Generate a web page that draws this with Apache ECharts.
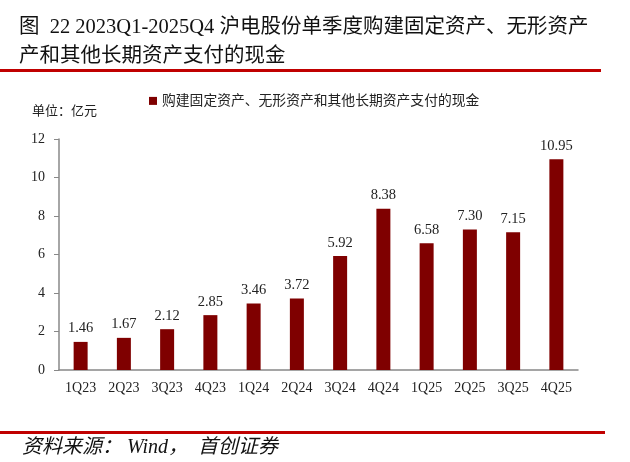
<!DOCTYPE html>
<html><head><meta charset="utf-8">
<script src="https://cdn.jsdelivr.net/npm/echarts@6/dist/echarts.min.js"></script>
<style>html,body{margin:0;padding:0;background:#fff}#c{width:630px;height:462px}</style>
</head><body><div id="c"></div>
<script>
const categories = ['1Q23','2Q23','3Q23','4Q23','1Q24','2Q24','3Q24','4Q24','1Q25','2Q25','3Q25','4Q25'];
const values = [1.46,1.67,2.12,2.85,3.46,3.72,5.92,8.38,6.58,7.30,7.15,10.95];
const seriesName = '购建固定资产、无形资产和其他长期资产支付的现金';
const yTicks = [0,2,4,6,8,10,12];
const FONT = '"Liberation Serif","Noto Sans CJK SC",serif';
const chart = echarts.init(document.getElementById('c'));
chart.setOption({
  animation:false,
  textStyle:{fontFamily:FONT},
  graphic:[
    {type:'text',left:19,top:17,style:{text:'图  22 2023Q1-2025Q4 沪电股份单季度购建固定资产、无形资产',font:'20.5px '+FONT,fill:'#111'}},
    {type:'text',left:19,top:46,style:{text:'产和其他长期资产支付的现金',font:'20.5px '+FONT,fill:'#111'}},
    {type:'rect',shape:{x:0,y:69,width:601,height:3},style:{fill:'#C00000'}},
    {type:'rect',shape:{x:0,y:431,width:605,height:3},style:{fill:'#C00000'}},
    {type:'text',left:22,top:438,style:{text:'资料来源： Wind，  首创证券',font:'italic 20px '+FONT,fill:'#111'}},
    {type:'text',left:32,top:105,style:{text:'单位：亿元',font:'13px '+FONT,fill:'#222'}}
  ],
  legend:{left:144,top:89,itemWidth:8,itemHeight:8,itemGap:4,icon:'rect',
    textStyle:{fontSize:13.8,color:'#222',fontFamily:FONT},data:[seriesName]},
  grid:{left:59,right:52,top:139,bottom:92,containLabel:false},
  xAxis:{type:'category',data:categories,
    axisLine:{lineStyle:{color:'#888',width:1.5}},axisTick:{show:false},
    axisLabel:{fontSize:14,color:'#222',margin:11,fontFamily:FONT}},
  yAxis:{type:'value',min:0,max:12,interval:2,
    axisLine:{show:true,lineStyle:{color:'#888',width:1.5}},
    axisTick:{show:true,length:5,lineStyle:{color:'#888'}},
    splitLine:{show:false},
    axisLabel:{fontSize:14,color:'#222',margin:14,fontFamily:FONT,
      formatter:v=>yTicks.includes(v)?String(v):''}},
  series:[{name:seriesName,type:'bar',data:values,barWidth:14,
    itemStyle:{color:'#7F0000'},
    label:{show:true,position:'top',distance:6,fontSize:14.5,color:'#222',fontFamily:FONT,
      formatter:p=>p.value.toFixed(2)}}]
});
</script></body></html>
